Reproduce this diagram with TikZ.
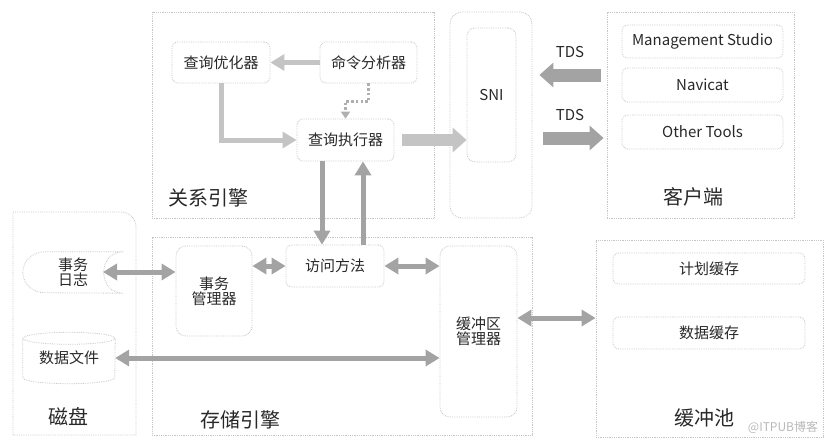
\documentclass[tikz,border=0pt]{standalone}
\usepackage{fontspec}
\setmainfont{Noto Sans CJK SC}
\usetikzlibrary{positioning, arrows.meta}

\definecolor{frameline}{RGB}{198,198,198}
\definecolor{pipelight}{RGB}{196,196,196}
\definecolor{pipedark}{RGB}{163,163,163}
\definecolor{dotgray}{RGB}{175,175,175}
\definecolor{inktext}{RGB}{40,40,40}
\newcommand{\setsz}[1]{\fontsize{#1pt}{#1pt}\selectfont}

\begin{document}
\begin{tikzpicture}[x=1pt, y=-1pt, >={Triangle[length=14pt, width=16pt]}, line join=miter,
    area/.style={draw=frameline, densely dotted, line width=0.8pt},
    unit/.style={draw=frameline, densely dotted, line width=0.8pt, rounded corners=6pt,
        align=center, text=inktext, font=\setsz{15}, inner sep=0pt},
    plain/.style={align=center, text=inktext, font=\setsz{15}, inner sep=0pt},
    caption/.style={text=inktext, font=\setsz{20}, inner sep=0pt},
    pipe/.style={line width=5pt, draw=pipedark},
    fatpipe/.style={line width=12pt, draw=pipelight, -{Triangle[length=14pt, width=24pt]}},
    tds/.style={line width=13pt, draw=pipedark, -{Triangle[length=14pt, width=24pt]}},
    dotline/.style={dash pattern=on 2.5pt off 2.2pt, line width=2.5pt, draw=dotgray, -{Triangle[length=7pt, width=9pt]}}]
    \useasboundingbox (0,0) rectangle (833,442);

    % Frames
    \node[area, minimum width=282, minimum height=206] (rel) at (293,115) {};
    \node[area, rounded corners=12pt, minimum width=82, minimum height=206] (sniouter) at (491,115) {};
    \node[area, minimum width=187, minimum height=206] (client) at (700.5,115) {};
    \node[area, minimum width=380, minimum height=198] (storage) at (342,336) {};
    \node[area, minimum width=227, minimum height=197] (pool) at (709.5,338.5) {};
    \draw[area] (13,435) -- (13,212) -- (121,212) arc[start angle=90, end angle=0, radius=15pt] -- (136,435) -- cycle;

    % Relational engine
    \node[unit, minimum width=98, minimum height=41] (qopt) at (221,62.5) {查询优化器};
    \node[unit, minimum width=97, minimum height=41] (cmd) at (368.5,62.5) {命令分析器};
    \node[unit, minimum width=97, minimum height=42] (qexec) at (345.5,140) {查询执行器};
    \node[unit, rounded corners=8pt, minimum width=49, minimum height=134] (sniin) at (491.5,95) {SNI};

    % Client
    \begin{scope}[node distance=43.5pt, on grid]
    \node[unit, minimum width=161, minimum height=33] (ms) at (702.5,41.5) {Management Studio};
    \node[unit, minimum width=161, minimum height=34] (navicat) [below=of ms] {Navicat};
    \node[unit, minimum width=161, minimum height=34] (other) [below=47pt of navicat] {Other Tools};
    \end{scope}
    \node[plain] (tdsin) at (570,52) {TDS};
    \node[plain] (tdsout) at (570,115) {TDS};

    % Storage engine and disk
    \node[plain, minimum width=100, minimum height=41] (log) at (73,272.5) {事务\\日志};
    \draw[area] (log.north east) -- ([xshift=22pt]log.north west)
        arc[start angle=90, end angle=270, x radius=22pt, y radius=20.5pt]
        -- (log.south east) .. controls ([xshift=-26pt]log.south east) and ([xshift=-26pt]log.north east) .. (log.north east);
    \coordinate (logdent) at (103,272);
    \node[plain, minimum width=92, minimum height=51] (datafile) at (69,358) {\raisebox{-4pt}{数据文件}};
    \draw[area] ([yshift=-6pt]datafile.north) ellipse[x radius=46pt, y radius=6pt];
    \draw[area] ([yshift=-6pt]datafile.north west) -- ([yshift=6pt]datafile.south west)
        arc[start angle=180, end angle=360, x radius=46pt, y radius=6pt] -- ([yshift=-6pt]datafile.north east);
    \node[unit, rounded corners=10pt, minimum width=76, minimum height=90] (txmgr) at (214,291) {事务\\管理器};
    \node[unit, minimum width=98, minimum height=42] (access) at (335,266) {访问方法};
    \node[unit, rounded corners=10pt, minimum width=77, minimum height=171] (bufmgr) at (478.5,331.5) {缓冲区\\管理器};

    % Buffer pool
    \node[unit, minimum width=192, minimum height=31] (plancache) at (709,268.5) {计划缓存};
    \node[unit, on grid, minimum width=192, minimum height=32] (datacache) [below=64.5pt of plancache] {数据缓存};

    % Captions
    \node[caption] (relcap) at (208,198) {关系引擎};
    \node[caption] (clientcap) at (693,197) {客户端};
    \node[caption] (diskcap) at (68,417) {磁盘};
    \node[caption] (storcap) at (240,420) {存储引擎};
    \node[caption] (poolcap) at (704,418) {缓冲池};
    \node[text=gray!55, font=\setsz{12}, inner sep=0pt] (mark) at (783,427) {@ITPUB博客};

    % Flows
    \draw[pipe, draw=pipelight, ->] (cmd) -- (qopt);
    \draw[pipe, draw=pipelight, ->] (qopt.south) |- (qexec.west);
    \draw[dotline] (cmd.south) -- ++(0,18) -| (qexec.north);
    \draw[fatpipe, shorten <=8pt] (qexec.east) -- (qexec.east -| sniin.west);
    \draw[pipe, ->] ([xshift=-23.5pt]qexec.south) -- ([xshift=-13pt]access.north);
    \draw[pipe, ->] ([xshift=28pt]access.north) -- ([xshift=17.5pt]qexec.south);
    \draw[tds, shorten <=6pt, shorten >=7pt] ([yshift=40pt]client.west) -- ([yshift=40pt]sniouter.east);
    \draw[tds, shorten <=11pt, shorten >=3pt] ([yshift=-23pt]sniouter.east) -- ([yshift=-23pt]client.west);
    \draw[pipe, <->] (logdent) -- (logdent -| txmgr.west);
    \draw[pipe, <->] (txmgr.east |- access) -- (access.west);
    \draw[pipe, <->] (access.east) -- (access.east -| bufmgr.west);
    \draw[pipe, <->] (datafile.east) -- (datafile.east -| bufmgr.west);
    \draw[pipe, <->] ([yshift=13.5pt]bufmgr.east) -- ([yshift=13.5pt]bufmgr.east -| pool.west);
\end{tikzpicture}
\end{document}
